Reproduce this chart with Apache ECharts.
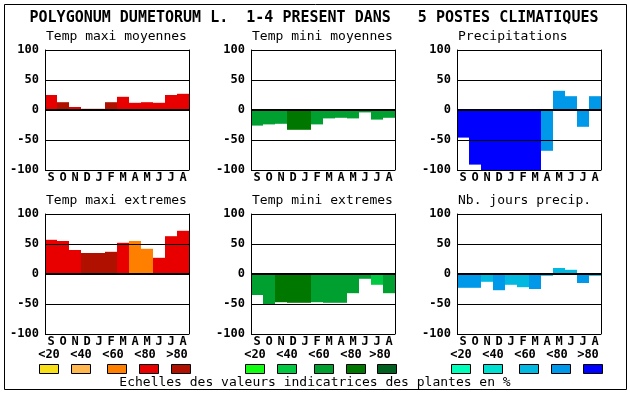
<!DOCTYPE html>
<html><head><meta charset="utf-8">
<script src="https://cdn.jsdelivr.net/npm/echarts@6/dist/echarts.min.js"></script>
<style>html,body{margin:0;padding:0;background:#fff}#c{width:630px;height:394px}</style>
</head><body><div id="c"></div>
<script>
// ---- data ----
const months = ['S','O','N','D','J','F','M','A','M','J','J','A'];
const yTickMin = -100, yTickMax = 100, yTickStep = 50;

const tmaxMoy    = [25, 13, 5, 2, 2, 13, 22, 12, 13, 12, 25, 27];
const tmaxMoyCls = [3, 4, 3, 3, 3, 4, 3, 3, 3, 3, 3, 3];
const tminMoy    = [-26, -24, -23, -33, -33, -24, -14, -13, -14, -4, -16, -13];
const tminMoyCls = [2, 2, 2, 3, 3, 2, 2, 2, 2, 2, 2, 2];
const precip     = [-46, -91, -100, -100, -100, -100, -100, -68, 32, 23, -28, 23];
const precipCls  = [4, 4, 4, 4, 4, 4, 4, 3, 3, 3, 3, 3];
const tmaxExt    = [57, 55, 40, 35, 35, 37, 52, 55, 42, 27, 63, 72];
const tmaxExtCls = [3, 3, 3, 4, 4, 4, 3, 2, 2, 3, 3, 3];
const tminExt    = [-35, -50, -47, -48, -48, -47, -48, -48, -32, -8, -18, -32];
const tminExtCls = [2, 2, 3, 3, 3, 2, 2, 2, 2, 2, 1, 2];
const nbJours    = [-23, -23, -13, -27, -18, -22, -25, -3, 10, 7, -15, -3];
const nbJoursCls = [3, 3, 2, 3, 2, 2, 3, 2, 2, 2, 3, 2];

const scaleLabels = ['<20', '<40', '<60', '<80', '>80'];
const redScale   = ['#f8e018', '#ffb850', '#ff8000', '#e80000', '#b01000'];
const greenScale = ['#10ff10', '#00c840', '#00a030', '#007800', '#006020'];
const blueScale  = ['#00ffb8', '#00e0d0', '#00b8e0', '#0098e8', '#0000ff'];

const mainTitle = 'POLYGONUM DUMETORUM L.  1-4 PRESENT DANS   5 POSTES CLIMATIQUES';
const footerText = 'Echelles des valeurs indicatrices des plantes en %';
const panelTitles = ['Temp maxi moyennes', 'Temp mini moyennes', 'Precipitations',
                     'Temp maxi extremes', 'Temp mini extremes', 'Nb. jours precip.'];

// ---- layout ----
const colLeft = [45, 251, 457];
const rowTop = [50, 214];
const plotW = 144, plotH = 120;
const MONO = '"DejaVu Sans Mono", "Liberation Mono", monospace';

const panels = [
  {values: tmaxMoy, cls: tmaxMoyCls, scale: redScale},
  {values: tminMoy, cls: tminMoyCls, scale: greenScale},
  {values: precip,  cls: precipCls,  scale: blueScale},
  {values: tmaxExt, cls: tmaxExtCls, scale: redScale},
  {values: tminExt, cls: tminExtCls, scale: greenScale},
  {values: nbJours, cls: nbJoursCls, scale: blueScale}
];

const grid = [], xAxis = [], yAxis = [], series = [], graphic = [];

panels.forEach((p, i) => {
  const col = i % 3, row = Math.floor(i / 3);
  const left = colLeft[col], top = rowTop[row];
  grid.push({left: left, top: top, width: plotW, height: plotH, containLabel: false});
  xAxis.push({
    type: 'category', gridIndex: i, data: months, position: 'bottom',
    axisLine: {show: false}, axisTick: {show: false}, splitLine: {show: false},
    axisLabel: {color: '#000', fontFamily: MONO, fontWeight: 'bold', fontSize: 12, margin: 2, interval: 0}
  });
  const yBase = {
    type: 'value', gridIndex: i, min: yTickMin, max: yTickMax, interval: yTickStep, z: 5,
    axisTick: {show: false}
  };
  yAxis.push(Object.assign({}, yBase, {
    position: 'left',
    axisLine: {show: true, lineStyle: {color: '#000', width: 1}},
    splitLine: {show: true, lineStyle: {color: '#000', width: 1, type: 'solid'}},
    axisLabel: {color: '#000', fontFamily: MONO, fontWeight: 'bold', fontSize: 12, margin: 6}
  }));
  yAxis.push(Object.assign({}, yBase, {
    position: 'right',
    axisLine: {show: true, lineStyle: {color: '#000', width: 1}},
    splitLine: {show: false},
    axisLabel: {show: false}
  }));
  series.push({
    type: 'bar', xAxisIndex: i, yAxisIndex: i * 2,
    barWidth: '100%', barCategoryGap: '0%',
    data: p.values.map((v, k) => ({value: v, itemStyle: {color: p.scale[p.cls[k]]}})),
    itemStyle: {borderWidth: 0},
    markLine: {
      silent: true, symbol: ['none', 'none'], label: {show: false},
      lineStyle: {color: '#000', width: 2, type: 'solid'},
      data: [{yAxis: 0}]
    }
  });
  graphic.push({
    type: 'text', left: left + 1, top: top - 20,
    style: {text: panelTitles[i], font: '13px ' + MONO, fill: '#000'}
  });
});

// title and footer
graphic.push({
  type: 'text', x: 314, y: 18,
  style: {text: mainTitle, font: 'bold 15px ' + MONO, fill: '#000',
          align: 'center', verticalAlign: 'middle', textAlign: 'center', textVerticalAlign: 'middle'}
});
graphic.push({
  type: 'text', x: 315, y: 383,
  style: {text: footerText, font: '13px ' + MONO, fill: '#000',
          align: 'center', verticalAlign: 'middle', textAlign: 'center', textVerticalAlign: 'middle'}
});

// legend scales
const legendBoxX = [[39, 71, 107, 139, 171], [245, 277, 314, 346, 377], [451, 483, 519, 551, 583]];
const legendLblX = [[49, 81, 113, 145, 177], [255, 287, 319, 351, 380], [461, 493, 525, 557, 588]];
const scales = [redScale, greenScale, blueScale];
scales.forEach((sc, g) => {
  sc.forEach((c, k) => {
    graphic.push({
      type: 'rect', shape: {x: legendBoxX[g][k] + 0.5, y: 364.5, width: 19, height: 9},
      style: {fill: c, stroke: '#000', lineWidth: 1}
    });
    graphic.push({
      type: 'text', x: legendLblX[g][k], y: 355,
      style: {text: scaleLabels[k], font: 'bold 12px ' + MONO, fill: '#000',
              align: 'center', verticalAlign: 'middle', textAlign: 'center', textVerticalAlign: 'middle'}
    });
  });
});

// outer frame
graphic.push({
  type: 'rect', shape: {x: 4.5, y: 4.5, width: 622, height: 385},
  style: {fill: 'none', stroke: '#000', lineWidth: 1}, z: -1
});

const chart = echarts.init(document.getElementById('c'), null, {renderer: 'canvas'});
chart.setOption({
  animation: false,
  backgroundColor: '#fff',
  grid, xAxis, yAxis, series, graphic
});
</script>
</body></html>
